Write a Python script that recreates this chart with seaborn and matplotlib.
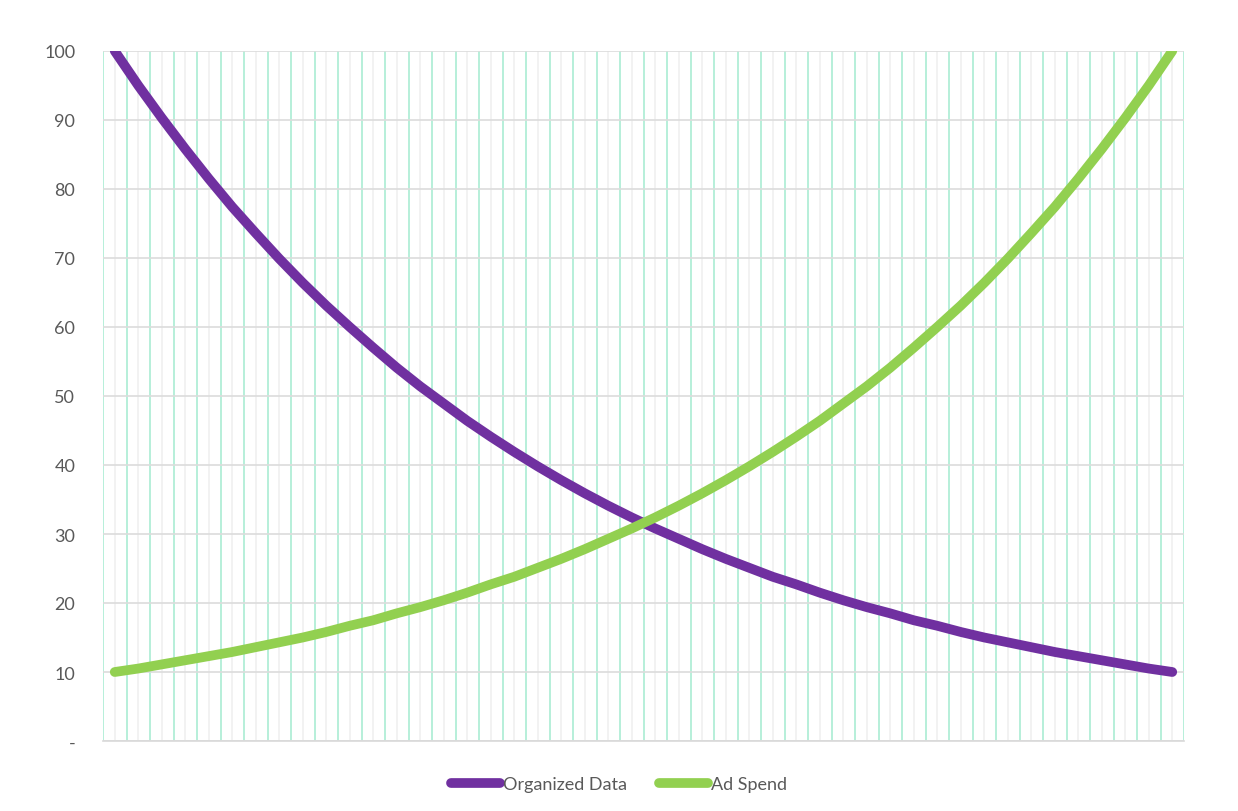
import numpy as np
import pandas as pd
import seaborn as sns
import matplotlib.pyplot as plt

# 数据
organized_data = [100.0, 95.0, 90.3, 85.8, 81.5, 77.4, 73.6, 69.9, 66.4, 63.1,
                  60.0, 57.0, 54.1, 51.4, 48.9, 46.4, 44.1, 41.9, 39.8, 37.8,
                  35.9, 34.1, 32.4, 30.8, 29.3, 27.8, 26.4, 25.1, 23.8, 22.7,
                  21.5, 20.4, 19.4, 18.5, 17.5, 16.7, 15.8, 15.0, 14.3, 13.6,
                  12.9, 12.3, 11.7, 11.1, 10.5, 10.0]
ad_spend = [10.0, 10.5, 11.1, 11.7, 12.3, 12.9, 13.6, 14.3, 15.0, 15.8,
            16.7, 17.5, 18.5, 19.4, 20.4, 21.5, 22.7, 23.8, 25.1, 26.4,
            27.8, 29.3, 30.8, 32.4, 34.1, 35.9, 37.8, 39.8, 41.9, 44.1,
            46.4, 48.9, 51.4, 54.1, 57.0, 60.0, 63.1, 66.4, 69.9, 73.6,
            77.4, 81.5, 85.8, 90.3, 95.0, 100.0]
series_names = ["Organized Data", "Ad Spend"]
y_ticks = [0, 10, 20, 30, 40, 50, 60, 70, 80, 90, 100]
y_tick_labels = ["-", "10", "20", "30", "40", "50", "60", "70", "80", "90", "100"]

n = len(organized_data)
df = pd.DataFrame({
    "x": list(range(n)) * 2,
    "value": organized_data + ad_spend,
    "series": [series_names[0]] * n + [series_names[1]] * n,
})

sns.set_style("white")
plt.rcParams['font.family'] = ['Lato', 'DejaVu Sans']

fig = plt.figure(figsize=(12.38, 8.12), dpi=100)
ax = fig.add_axes([103 / 1238, 1 - 742 / 812, (1184 - 103) / 1238, (742 - 52) / 812])

sns.lineplot(data=df, x="x", y="value", hue="series",
             palette=["#7030a0", "#92d050"], linewidth=7,
             solid_capstyle="round", legend=False, ax=ax, zorder=5)

# 网格线
ax.set_xlim(-0.5, n - 0.5)
ax.set_ylim(0, 100)
ax.set_xticks(np.arange(-0.5, n, 1.0))
ax.set_xticks(np.arange(0, n, 1.0), minor=True)
ax.set_xticklabels([])
ax.grid(axis="x", which="major", color="#a3ebcf", linewidth=1.1, zorder=2)
ax.grid(axis="x", which="minor", color="#efefef", linewidth=1.1, zorder=1)
ax.set_yticks(y_ticks)
ax.set_yticklabels(y_tick_labels, fontsize=13, color="#595959")
ax.grid(axis="y", which="major", color="#dcdcdc", linewidth=1.2, zorder=1)
ax.tick_params(axis="both", which="both", length=0)
ax.tick_params(axis="y", pad=20)
ax.set_xlabel("")
ax.set_ylabel("")
for side in ["top", "right", "left"]:
    ax.spines[side].set_visible(False)
ax.spines["bottom"].set_color("#d9d9d9")
ax.spines["bottom"].set_linewidth(1.2)

handles = [plt.Line2D([], [], color=c, linewidth=7, solid_capstyle="round")
           for c in ["#7030a0", "#92d050"]]
fig.legend(handles, series_names, loc="center", bbox_to_anchor=(0.5, 1 - 785 / 812),
           ncol=2, frameon=False, fontsize=13, labelcolor="#595959",
           handlelength=2.7, handletextpad=0.15, columnspacing=1.8)

plt.savefig("out.png", dpi=100)
